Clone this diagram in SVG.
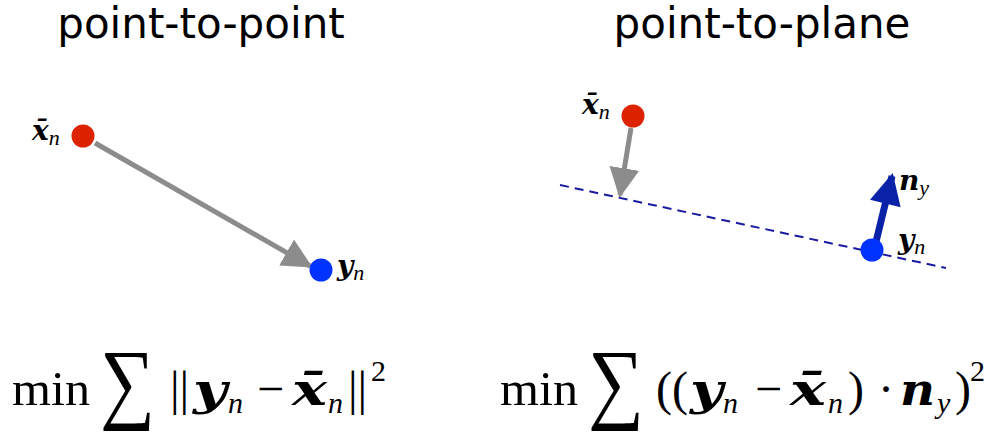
<svg xmlns="http://www.w3.org/2000/svg" width="998" height="440" viewBox="0 0 998 440">
<style>
.title{font-family:"DejaVu Sans",sans-serif;font-size:42px;fill:#000;text-anchor:middle}
.m{font-family:"Liberation Serif","DejaVu Serif",serif;fill:#000}
.v{font-family:"DejaVu Serif",serif;font-weight:bold;font-style:italic}
.lab{font-size:28px}
.sub{font-family:"Liberation Serif",serif;font-style:italic;font-weight:normal}
.f{font-size:48px}
.fv{font-size:44px}
.fs{font-size:30px}
.sum{font-size:90px}
</style>
<defs>
<marker id="ag" viewBox="0 0 10 10" refX="9" refY="5" markerWidth="6" markerHeight="6" orient="auto" markerUnits="strokeWidth">
<path d="M0,0 L10,5 L0,10 z" fill="#8c8c8c"/>
</marker>
<marker id="ab" viewBox="0 0 10 10" refX="9" refY="5" markerWidth="5" markerHeight="4.5" orient="auto" markerUnits="strokeWidth">
<path d="M0,0 L10,5 L0,10 z" fill="#0a22a8"/>
</marker>
</defs>
<text class="title" x="201" y="38">point-to-point</text>
<text class="title" x="762" y="38">point-to-plane</text>
<g id="connectors">
<line x1="95" y1="143" x2="310" y2="266" stroke="#8c8c8c" stroke-width="5" marker-end="url(#ag)"/>
<line x1="631" y1="128" x2="620" y2="195" stroke="#8c8c8c" stroke-width="5" marker-end="url(#ag)"/>
<line x1="560" y1="185" x2="946" y2="268" stroke="#1a1aa0" stroke-width="2" stroke-dasharray="9,6"/>
<line x1="874" y1="250" x2="892" y2="176" stroke="#0a22a8" stroke-width="7" marker-end="url(#ab)"/>
</g>
<g id="xn-left">
<circle cx="83" cy="136" r="11.5" fill="#dd2200"/>
<text class="m lab" x="32" y="140"><tspan class="v">x̄</tspan><tspan class="sub" font-size="22" dy="5">n</tspan></text>
</g>
<g id="yn-left">
<circle cx="321" cy="270" r="11.5" fill="#0033ff"/>
<text class="m lab" x="337" y="275"><tspan class="v">y</tspan><tspan class="sub" font-size="22" dy="5">n</tspan></text>
</g>
<g id="xn-right">
<circle cx="633" cy="116" r="11.5" fill="#dd2200"/>
<text class="m lab" x="582" y="114"><tspan class="v">x̄</tspan><tspan class="sub" font-size="22" dy="5">n</tspan></text>
</g>
<g id="yn-right">
<circle cx="872" cy="250" r="11.5" fill="#0033ff"/>
<text class="m lab" x="898" y="249"><tspan class="v">y</tspan><tspan class="sub" font-size="22" dy="5">n</tspan></text>
</g>
<g id="ny">
<text class="m lab" x="899" y="190"><tspan class="v">n</tspan><tspan class="sub" font-size="22" dy="5">y</tspan></text>
</g>
<g id="formula-left" class="m">
<text class="f" x="12" y="405" textLength="78" lengthAdjust="spacingAndGlyphs">min</text>
<text class="sum" x="100" y="412" textLength="55" lengthAdjust="spacingAndGlyphs">∑</text>
<text class="f" x="170" y="405">||</text>
<text class="fv v" x="193" y="405" textLength="34" lengthAdjust="spacingAndGlyphs">y</text>
<text class="fs sub" x="228" y="413">n</text>
<text class="f" x="257" y="405">−</text>
<text class="fv v" x="292" y="405" textLength="35" lengthAdjust="spacingAndGlyphs">x̄</text>
<text class="fs sub" x="328" y="413">n</text>
<text class="f" x="348" y="405">||</text>
<text class="fs" x="371" y="381">2</text>
</g>
<g id="formula-right" class="m">
<text class="f" x="500" y="405" textLength="78" lengthAdjust="spacingAndGlyphs">min</text>
<text class="sum" x="588" y="412" textLength="56" lengthAdjust="spacingAndGlyphs">∑</text>
<text class="f" x="656" y="405">((</text>
<text class="fv v" x="690" y="405" textLength="33" lengthAdjust="spacingAndGlyphs">y</text>
<text class="fs sub" x="723" y="413">n</text>
<text class="f" x="755" y="405">−</text>
<text class="fv v" x="790" y="405" textLength="36" lengthAdjust="spacingAndGlyphs">x̄</text>
<text class="fs sub" x="828" y="413">n</text>
<text class="f" x="848" y="405">)</text>
<text class="f" x="878" y="405">·</text>
<text class="fv v" x="900" y="405" textLength="35" lengthAdjust="spacingAndGlyphs">n</text>
<text class="fs sub" x="937" y="413">y</text>
<text class="f" x="955" y="405">)</text>
<text class="fs" x="970" y="381">2</text>
</g>
</svg>
